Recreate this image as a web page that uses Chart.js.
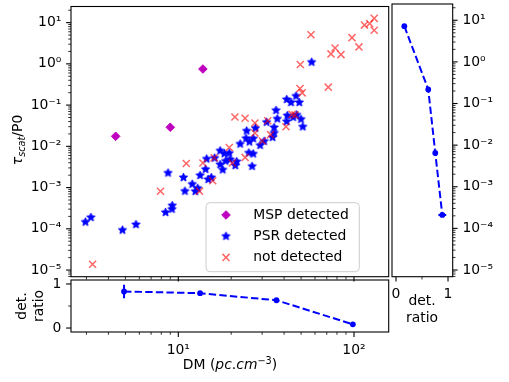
<!DOCTYPE html>
<html lang="en">
<head>
    <meta charset="UTF-8">
    <title>Scattering time vs DM - detection ratio</title>
    <script src="https://cdn.jsdelivr.net/npm/chart.js"></script>
    <style>
        body { margin: 0; background: #fff; }
        .figure { position: relative; width: 509px; height: 382px; font-family: 'DejaVu Sans', sans-serif; font-size: 13.9px; color: #000; }
        .figure canvas { position: absolute; left: 0; top: 0; }
        .axis-label { position: absolute; white-space: nowrap; line-height: 16.7px; text-align: center; }
        .axis-label sub { font-size: 70%; position: relative; top: 0.3em; vertical-align: baseline; }
        .axis-label sup { font-size: 70%; position: relative; top: -0.5em; vertical-align: baseline; }
    </style>
</head>
<body>
<div class="figure">
    <canvas id="mainChart" width="509" height="382"></canvas>
    <canvas id="dmRatioChart" width="509" height="382"></canvas>
    <canvas id="tauRatioChart" width="509" height="382"></canvas>

    <!-- axis titles -->
    <div class="axis-label" style="left:18px; top:140px; transform:translate(-50%,-50%) rotate(-90deg);"><i>τ</i><sub><i>scat</i></sub>/P0</div>
    <div class="axis-label" style="left:30px; top:306px; transform:translate(-50%,-50%) rotate(-90deg);">det.<br>ratio</div>
    <div class="axis-label" style="left:422px; top:292px; transform:translateX(-50%);">det.<br>ratio</div>
    <div class="axis-label" style="left:230px; top:356px; transform:translateX(-50%);">DM (<i>pc</i>.<i>cm</i><sup>−3</sup>)</div>
</div>

<script>
    // Values
    const mspDM = [4.4, 9.0, 13.8];
    const mspTau = [0.0175, 0.029, 0.75];

    const psrDM = [2.96, 3.18, 4.81, 5.74, 8.46, 9.23, 9.2, 8.74, 10.7, 10.9, 12.0, 12.5, 12.9, 13.3,
        14.3, 14.8, 15.4, 14.5, 16.1, 17.3, 18.3, 19.5, 17.3, 17.9, 18.6, 19.7, 21.1, 21.5, 22.5,
        24.5, 24.3, 25.4, 25.2, 26.7, 26.3, 27.5, 29.2, 30.8, 31.8, 35.1, 35.1, 34.4, 36.0, 36.6,
        41.4, 41.7, 41.4, 43.8, 46.8, 48.8, 45.1, 47.2, 49.9, 51.1, 57.4, 26.7];
    const psrTau = [1.46e-4, 1.89e-4, 9.3e-5, 1.27e-4, 2.5e-4, 3.66e-4, 3.0e-4, 2.26e-3, 1.75e-3, 8.2e-4,
        1.21e-3, 8.1e-4, 9.6e-4, 1.97e-3, 2.78e-3, 1.58e-3, 1.75e-3, 4.96e-3, 5.2e-3, 7.8e-3, 6.65e-3,
        6.84e-3, 3.62e-3, 2.7e-3, 4.4e-3, 4.8e-3, 3.43e-3, 4.27e-3, 1.14e-2, 2.37e-2, 1.56e-2, 1.28e-2,
        6.95e-3, 6.58e-3, 3.28e-3, 2.76e-2, 1.06e-2, 1.33e-2, 3.85e-2, 2.87e-2, 2.1e-2, 1.65e-2, 7.46e-2,
        4.64e-2, 4.0e-2, 5.57e-2, 0.137, 0.116, 0.166, 0.116, 5.07e-2, 5.79e-2, 4.54e-2, 2.98e-2, 1.10,
        1.54e-2];

    const ndDM = [3.25, 7.92, 11.1, 13.2, 13.8, 15.7, 19.5, 20.3, 24.0, 27.3, 21.0, 24.0, 27.3, 30.1,
        33.5, 32.3, 41.0, 44.4, 46.1, 49.3, 50.7, 49.5, 56.9, 71.4, 74.0, 78.0, 84.3, 97.4, 106.7,
        114.7, 122.8, 130.3, 130.3, 16.0];
    const ndTau = [1.38e-5, 8.15e-4, 3.83e-3, 8.2e-4, 3.94e-3, 1.46e-3, 9.36e-3, 3.94e-3, 5.39e-3,
        3.68e-2, 5.13e-2, 4.8e-2, 2.1e-2, 1.35e-2, 1.92e-2, 4.16e-2, 2.98e-2, 5.98e-2, 5.79e-2, 0.251,
        0.198, 0.968, 5.07, 0.272, 1.74, 2.42, 1.68, 4.32, 2.58, 8.71, 9.46, 12.7, 6.53, 5.27e-3];

    const dmBins = [4.91, 13.3, 36.2, 98.5];
    const ratioDm = [0.83, 0.79, 0.63, 0.085];
    const ratioDmErr = [0.155, 0.02, 0.02, 0.02];

    const tauBins = [7.2, 0.218, 0.0065, 0.00021];
    const ratioTau = [0.16, 0.62, 0.755, 0.89];
    const ratioTauErr = [0.02, 0.03, 0.03, 0.075];

    const legendLabels = ['MSP detected', 'PSR detected', 'not detected'];

    const dmTicks = [10, 100];
    const tauTicks = [1e-5, 1e-4, 1e-3, 1e-2, 1e-1, 1, 10];
    const ratioTicks = [0, 1];
    const ratioMinorTicks = [0.5];

    const dmRange = [2.45, 157.6];
    const tauRange = [6.9e-6, 24.6];
    const ratioRangeDm = [-0.09, 1.09];
    const ratioRangeTau = [-0.077, 1.09];

    Chart.defaults.font.family = "'DejaVu Sans'";
    Chart.defaults.font.size = 13.9;
    Chart.defaults.color = '#000';

    const BLUE = '#0000ff';

    function toPoints(xs, ys) {
        return xs.map((x, i) => ({ x: x, y: ys[i] }));
    }

    function logMinors(lo, hi) {
        const out = [];
        for (let e = Math.floor(Math.log10(lo)); e <= Math.ceil(Math.log10(hi)); e++) {
            for (let k = 2; k <= 9; k++) {
                const v = k * Math.pow(10, e);
                if (v >= lo && v <= hi) out.push(v);
            }
        }
        return out;
    }

    const SUP = { '-': '⁻', '0': '⁰', '1': '¹', '2': '²', '3': '³', '4': '⁴', '5': '⁵', '6': '⁶', '7': '⁷', '8': '⁸', '9': '⁹' };
    function powLabel(v) {
        const e = Math.round(Math.log10(v));
        return '10' + String(e).split('').map(c => SUP[c]).join('');
    }

    // fix the scale box size and drop the extra label padding Chart.js adds
    function fixBox(width, height) {
        return s => {
            if (width !== null) s.width = width;
            if (height !== null) s.height = height;
            s.paddingTop = 0; s.paddingBottom = 0; s.paddingLeft = 0; s.paddingRight = 0;
        };
    }

    // filled 5-point star, like matplotlib's '*' marker
    function makeStar(r, color) {
        const c = document.createElement('canvas');
        const s = Math.ceil(r * 2 + 2);
        c.width = s; c.height = s;
        const g = c.getContext('2d');
        g.fillStyle = color;
        g.strokeStyle = color;
        g.lineWidth = 0.8;
        g.beginPath();
        for (let i = 0; i < 10; i++) {
            const rr = i % 2 === 0 ? r : r * 0.48;
            const ang = -Math.PI / 2 + i * Math.PI / 5;
            const px = s / 2 + rr * Math.cos(ang), py = s / 2 + rr * Math.sin(ang);
            if (i === 0) g.moveTo(px, py); else g.lineTo(px, py);
        }
        g.closePath();
        g.fill();
        g.stroke();
        return c;
    }
    const starMarker = makeStar(4.4, BLUE);

    // axes frame + outward tick marks (major / minor)
    const frameTicks = {
        id: 'frameTicks',
        afterDraw(chart, args, opts) {
            const ctx = chart.ctx, a = chart.chartArea;
            ctx.save();
            ctx.strokeStyle = '#000';
            ctx.lineWidth = 1.1;
            ctx.strokeRect(a.left, a.top, a.right - a.left, a.bottom - a.top);
            (opts.marks || []).forEach(m => {
                const sc = chart.scales[m.scale];
                [[m.major, 4.9, 1.1], [m.minor || [], 2.8, 0.8]].forEach(([vals, len, w]) => {
                    ctx.lineWidth = w;
                    vals.forEach(v => {
                        if (v < sc.min || v > sc.max) return;
                        const p = sc.getPixelForValue(v);
                        ctx.beginPath();
                        if (m.side === 'bottom') { ctx.moveTo(p, a.bottom); ctx.lineTo(p, a.bottom + len); }
                        else if (m.side === 'left') { ctx.moveTo(a.left, p); ctx.lineTo(a.left - len, p); }
                        else if (m.side === 'right') { ctx.moveTo(a.right, p); ctx.lineTo(a.right + len, p); }
                        ctx.stroke();
                    });
                });
            });
            ctx.restore();
        }
    };

    // legend box inside the main axes (lower right)
    const boxLegend = {
        id: 'boxLegend',
        afterDraw(chart, args, opts) {
            const ctx = chart.ctx, b = opts.box, r = 4;
            ctx.save();
            ctx.beginPath();
            ctx.moveTo(b.x + r, b.y);
            ctx.arcTo(b.x + b.w, b.y, b.x + b.w, b.y + b.h, r);
            ctx.arcTo(b.x + b.w, b.y + b.h, b.x, b.y + b.h, r);
            ctx.arcTo(b.x, b.y + b.h, b.x, b.y, r);
            ctx.arcTo(b.x, b.y, b.x + b.w, b.y, r);
            ctx.closePath();
            ctx.fillStyle = 'rgba(255,255,255,0.8)';
            ctx.fill();
            ctx.strokeStyle = '#cccccc';
            ctx.lineWidth = 1;
            ctx.stroke();

            ctx.font = "13.9px 'DejaVu Sans'";
            ctx.textBaseline = 'middle';
            ctx.textAlign = 'left';
            chart.data.datasets.forEach((ds, i) => {
                const y = opts.firstRow + i * opts.rowStep;
                ctx.fillStyle = ds.backgroundColor;
                ctx.strokeStyle = ds.borderColor;
                ctx.lineWidth = ds.borderWidth;
                Chart.helpers.drawPoint(ctx, { pointStyle: ds.pointStyle, radius: ds.pointRadius, borderWidth: ds.borderWidth, rotation: 0 }, opts.markerX, y);
                ctx.fillStyle = '#000';
                ctx.fillText(ds.label, opts.textX, y);
            });
            ctx.restore();
        }
    };

    const hiddenGrid = { display: false, drawTicks: false };

    // Main scatter: tau_scat/P0 vs DM
    new Chart(document.getElementById('mainChart'), {
        type: 'scatter',
        data: {
            datasets: [
                { label: legendLabels[0], data: toPoints(mspDM, mspTau), pointStyle: 'rectRot', pointRadius: 4.3,
                  backgroundColor: '#bf00bf', borderColor: '#bf00bf', borderWidth: 1, order: 2 },
                { label: legendLabels[1], data: toPoints(psrDM, psrTau), pointStyle: starMarker, pointRadius: 5,
                  backgroundColor: BLUE, borderColor: BLUE, borderWidth: 0, order: 1 },
                { label: legendLabels[2], data: toPoints(ndDM, ndTau), pointStyle: 'crossRot', pointRadius: 5,
                  backgroundColor: 'rgba(255,0,0,0.6)', borderColor: 'rgba(255,0,0,0.6)', borderWidth: 1.5, order: 0 }
            ]
        },
        options: {
            responsive: false,
            animation: false,
            events: [],
            layout: { padding: { left: 0, top: 3.7, right: 120.3, bottom: 105.3 } },
            scales: {
                x: { type: 'logarithmic', min: dmRange[0], max: dmRange[1], display: false },
                y: {
                    type: 'logarithmic', position: 'left', min: tauRange[0], max: tauRange[1],
                    grid: hiddenGrid, border: { display: false },
                    afterBuildTicks: s => { s.ticks = tauTicks.map(v => ({ value: v })); },
                    afterFit: fixBox(71, null),
                    ticks: { padding: 9.7, autoSkip: false, callback: v => powLabel(v) }
                }
            },
            plugins: {
                legend: { display: false },
                tooltip: { enabled: false },
                frameTicks: { marks: [
                    { scale: 'x', side: 'bottom', major: dmTicks, minor: logMinors(dmRange[0], dmRange[1]) },
                    { scale: 'y', side: 'left', major: tauTicks, minor: logMinors(tauRange[0], tauRange[1]) }
                ] },
                boxLegend: { box: { x: 206, y: 202.7, w: 153.3, h: 69 }, markerX: 226, textX: 253.3, firstRow: 215, rowStep: 21.2 }
            }
        },
        plugins: [frameTicks, boxLegend]
    });

    // error bars as short line segments
    function errSets(xs, ys, errs, horizontal) {
        return xs.map((x, i) => ({
            data: horizontal
                ? [{ x: x - errs[i], y: ys[i] }, { x: x + errs[i], y: ys[i] }]
                : [{ x: x, y: ys[i] - errs[i] }, { x: x, y: ys[i] + errs[i] }],
            showLine: true, borderColor: BLUE, borderWidth: 2, pointRadius: 0
        }));
    }

    const ratioLine = {
        showLine: true, borderColor: BLUE, backgroundColor: BLUE, borderWidth: 2,
        borderDash: [7.4, 3.2], pointRadius: 2.9, pointBorderWidth: 0
    };

    // Bottom: detection ratio vs DM
    new Chart(document.getElementById('dmRatioChart'), {
        type: 'scatter',
        data: {
            datasets: [Object.assign({ data: toPoints(dmBins, ratioDm) }, ratioLine)]
                .concat(errSets(dmBins, ratioDm, ratioDmErr, false))
        },
        options: {
            responsive: false,
            animation: false,
            events: [],
            layout: { padding: { left: 0, top: 280, right: 120.3, bottom: 0 } },
            scales: {
                x: {
                    type: 'logarithmic', position: 'bottom', min: dmRange[0], max: dmRange[1],
                    grid: hiddenGrid, border: { display: false },
                    afterBuildTicks: s => { s.ticks = dmTicks.map(v => ({ value: v })); },
                    afterFit: fixBox(null, 50),
                    ticks: { padding: 9.7, autoSkip: false, maxRotation: 0, callback: v => powLabel(v) }
                },
                y: {
                    type: 'linear', position: 'left', min: ratioRangeDm[0], max: ratioRangeDm[1],
                    grid: hiddenGrid, border: { display: false },
                    afterBuildTicks: s => { s.ticks = ratioTicks.map(v => ({ value: v })); },
                    afterFit: fixBox(71, null),
                    ticks: { padding: 9.7, autoSkip: false, callback: v => String(v) }
                }
            },
            plugins: {
                legend: { display: false },
                tooltip: { enabled: false },
                frameTicks: { marks: [
                    { scale: 'x', side: 'bottom', major: dmTicks, minor: logMinors(dmRange[0], dmRange[1]) },
                    { scale: 'y', side: 'left', major: ratioTicks, minor: ratioMinorTicks }
                ] }
            }
        },
        plugins: [frameTicks]
    });

    // Right: tau_scat/P0 vs detection ratio
    new Chart(document.getElementById('tauRatioChart'), {
        type: 'scatter',
        data: {
            datasets: [Object.assign({ data: toPoints(ratioTau, tauBins) }, ratioLine)]
                .concat(errSets(ratioTau, tauBins, ratioTauErr, true))
        },
        options: {
            responsive: false,
            animation: false,
            events: [],
            layout: { padding: { left: 392, top: 3.7, right: 0, bottom: 0 } },
            scales: {
                x: {
                    type: 'linear', position: 'bottom', min: ratioRangeTau[0], max: ratioRangeTau[1],
                    grid: hiddenGrid, border: { display: false },
                    afterBuildTicks: s => { s.ticks = ratioTicks.map(v => ({ value: v })); },
                    afterFit: fixBox(null, 105.3),
                    ticks: { padding: 9.7, autoSkip: false, maxRotation: 0, callback: v => String(v) }
                },
                y: {
                    type: 'logarithmic', position: 'right', min: tauRange[0], max: tauRange[1],
                    grid: hiddenGrid, border: { display: false },
                    afterBuildTicks: s => { s.ticks = tauTicks.map(v => ({ value: v })); },
                    afterFit: fixBox(56.3, null),
                    ticks: { padding: 9.7, autoSkip: false, callback: v => powLabel(v) }
                }
            },
            plugins: {
                legend: { display: false },
                tooltip: { enabled: false },
                frameTicks: { marks: [
                    { scale: 'x', side: 'bottom', major: ratioTicks, minor: ratioMinorTicks },
                    { scale: 'y', side: 'right', major: tauTicks, minor: logMinors(tauRange[0], tauRange[1]) }
                ] }
            }
        },
        plugins: [frameTicks]
    });
</script>
</body>
</html>
